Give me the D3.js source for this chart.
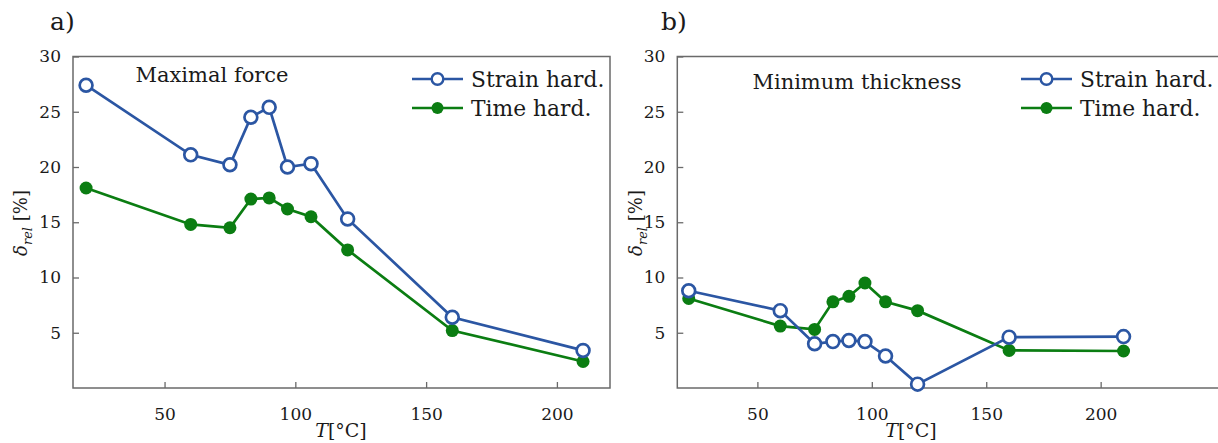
<!DOCTYPE html>
<html><head><meta charset="utf-8">
<script src="https://cdn.jsdelivr.net/npm/d3@7"></script>
<style>body{margin:0;background:#fff;overflow:hidden}svg{display:block}</style>
</head><body><svg id="c" width="1218" height="443"></svg>
<script>
const temps = [20, 60, 75, 83, 90, 97, 106, 120, 160, 210];
const forceStrain = [27.4, 21.1, 20.2, 24.5, 25.4, 20.0, 20.3, 15.3, 6.4, 3.4];
const forceTime = [18.1, 14.8, 14.5, 17.1, 17.2, 16.2, 15.5, 12.5, 5.2, 2.4];
const thickStrain = [8.8, 7.0, 4.0, 4.2, 4.3, 4.2, 2.9, 0.35, 4.6, 4.65];
const thickTime = [8.1, 5.6, 5.3, 7.8, 8.3, 9.5, 7.8, 7.0, 3.4, 3.35];
const yTicks = [5, 10, 15, 20, 25, 30];
const xTicks = [50, 100, 150, 200];
const seriesNames = ["Strain hard.", "Time hard."];
const blue = "#2b56a3", green = "#0b7d12";
const FONT = "DejaVu Serif";

const svg = d3.select("#c");

function panel(o) {
  const g = svg.append("g").attr("font-family", FONT).attr("fill", "#1a1a1a");
  const x = d3.scaleLinear().domain(o.xdom).range([o.left, o.right]);
  const y = d3.scaleLinear().domain([0, 30]).range([388, 56.5]);
  g.append("rect").attr("x", o.left).attr("y", 56.5).attr("width", o.right - o.left).attr("height", 388 - 56.5)
    .attr("fill", "none").attr("stroke", "#6a6a6a").attr("stroke-width", 1.5);
  const ya = g.append("g").attr("transform", `translate(${o.left},0)`)
    .call(d3.axisLeft(y).tickValues(yTicks).tickSizeInner(-6).tickSizeOuter(0).tickPadding(12));
  const xa = g.append("g").attr("transform", `translate(0,388)`)
    .call(d3.axisBottom(x).tickValues(xTicks).tickSizeInner(-6).tickSizeOuter(0).tickPadding(20));
  [ya, xa].forEach(a => {
    a.attr("font-family", FONT).attr("font-size", 17);
    a.select(".domain").remove();
    a.selectAll("line").attr("stroke", "#6a6a6a").attr("stroke-width", 1.3);
    a.selectAll("text").attr("fill", "#1a1a1a");
  });
  const line = d3.line().x((d, i) => x(temps[i])).y(d => y(d));
  g.append("path").datum(o.time).attr("d", line).attr("fill", "none").attr("stroke", green).attr("stroke-width", 2.7);
  g.append("path").datum(o.strain).attr("d", line).attr("fill", "none").attr("stroke", blue).attr("stroke-width", 2.7);
  g.selectAll(".tm").data(o.time).enter().append("circle").attr("cx", (d, i) => x(temps[i])).attr("cy", d => y(d))
    .attr("r", 6.5).attr("fill", green);
  g.selectAll(".sm").data(o.strain).enter().append("circle").attr("cx", (d, i) => x(temps[i])).attr("cy", d => y(d))
    .attr("r", 6.4).attr("fill", "#fff").attr("stroke", blue).attr("stroke-width", 2.7);
  g.append("text").attr("x", o.titleX).attr("y", o.titleY).attr("text-anchor", "middle").attr("font-size", 21).text(o.title);
  const lx = o.legX;
  [[blue, true, 79], [green, false, 108]].forEach(([c, open, ly], k) => {
    g.append("line").attr("x1", lx).attr("x2", lx + 51).attr("y1", ly).attr("y2", ly).attr("stroke", c).attr("stroke-width", 2.7);
    if (open) g.append("circle").attr("cx", lx + 25.5).attr("cy", ly).attr("r", 5.8).attr("fill", "#fff").attr("stroke", c).attr("stroke-width", 2.4);
    else g.append("circle").attr("cx", lx + 25.5).attr("cy", ly).attr("r", 6).attr("fill", c);
    g.append("text").attr("x", lx + 59).attr("y", ly + 7.5).attr("font-size", 21.8).text(seriesNames[k]);
  });
  g.append("text").attr("x", o.labX).attr("y", 30).attr("font-size", 25).text(o.lab);
  const xl = g.append("text").attr("x", o.xlabX).attr("y", 437).attr("text-anchor", "middle").attr("font-size", 19);
  xl.append("tspan").attr("font-style", "italic").text("T");
  xl.append("tspan").text("[°C]");
  const yl = g.append("text").attr("transform", `translate(${o.ylabX},223) rotate(-90)`).attr("text-anchor", "middle").attr("font-size", 18);
  yl.append("tspan").attr("font-style", "italic").text("δ");
  yl.append("tspan").attr("font-style", "italic").attr("dy", 5).attr("font-size", 13).text("rel");
  yl.append("tspan").attr("dy", -5).text(" [%]");
}

panel({ left: 73, right: 610, xdom: [15, 220.3], strain: forceStrain, time: forceTime,
  title: "Maximal force", titleX: 212, titleY: 82, legX: 412, labX: 50, lab: "a)", xlabX: 341, ylabX: 27 });
panel({ left: 677.3, right: 1224, xdom: [15, 253.9], strain: thickStrain, time: thickTime,
  title: "Minimum thickness", titleX: 857, titleY: 89, legX: 1021, labX: 661, lab: "b)", xlabX: 911, ylabX: 642 });
</script></body></html>
